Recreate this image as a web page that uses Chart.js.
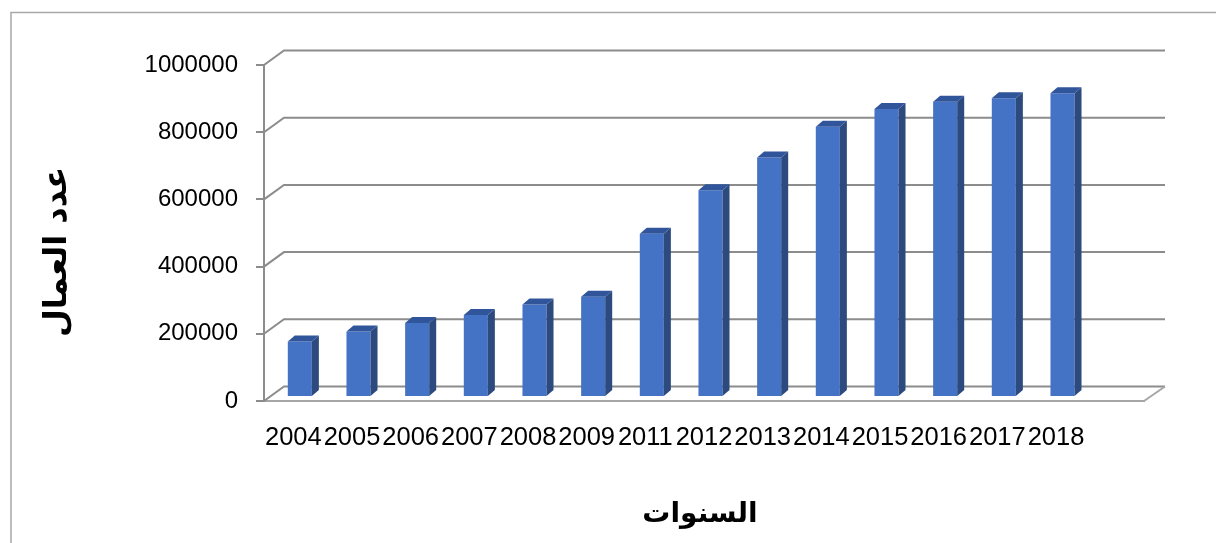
<!DOCTYPE html>
<html>
<head>
<meta charset="utf-8">
<script src="https://cdn.jsdelivr.net/npm/chart.js@4.4.1/dist/chart.umd.min.js"></script>
<style>
  html, body { margin: 0; padding: 0; background: #fff; }
  canvas { display: block; }
</style>
</head>
<body>
<canvas id="workersChart" width="1216" height="543"></canvas>
<script>
// data (last slot is empty in the original)
const years = ['2004', '2005', '2006', '2007', '2008', '2009', '2011', '2012', '2013', '2014', '2015', '2016', '2017', '2018', ''];
const workers = [165000, 195000, 220000, 244000, 275000, 298000, 486000, 615000, 713000, 804000, 857000, 879000, 889000, 904000, null];
const yTicks = [0, 200000, 400000, 600000, 800000, 1000000];

const yTitle = 'عدد العمال';
const xTitle = 'السنوات';

const GRID = '#8c8c8c';
const FLOOR = '#a6a6a6';
const WALL_DX = 20, WALL_DY = -14.5;   // back wall offset
const BAR_DX = 6.5, BAR_DY = -4;       // bars sit a bit inside the floor
const DEPTH_X = 7, DEPTH_Y = -6;       // bar depth

// frame, back wall and 3d faces of the bars
const pseudo3d = {
    id: 'pseudo3d',
    beforeDraw(chart) {
        const ctx = chart.ctx;
        ctx.save();
        ctx.fillStyle = '#fff';
        ctx.fillRect(0, 0, chart.width, chart.height);
        ctx.strokeStyle = '#a8a8a8';
        ctx.lineWidth = 1.5;
        ctx.beginPath();
        ctx.moveTo(11, chart.height);
        ctx.lineTo(11, 12.5);
        ctx.lineTo(chart.width, 12.5);
        ctx.stroke();
        ctx.restore();
    },
    beforeDatasetsDraw(chart) {
        const ctx = chart.ctx;
        const area = chart.chartArea;
        const y = chart.scales.y;
        ctx.save();
        ctx.strokeStyle = GRID;
        ctx.lineWidth = 2;
        yTicks.forEach(v => {
            const py = y.getPixelForValue(v);
            ctx.beginPath();
            ctx.moveTo(area.left, py);
            ctx.lineTo(area.left + WALL_DX, py + WALL_DY);
            ctx.lineTo(area.right + WALL_DX + 1, py + WALL_DY);
            ctx.stroke();
        });
        ctx.strokeStyle = FLOOR;
        ctx.beginPath();
        ctx.moveTo(area.right, area.bottom);
        ctx.lineTo(area.right + WALL_DX + 1, area.bottom + WALL_DY);
        ctx.stroke();
        ctx.restore();

        // shift the bars into the floor
        ctx.save();
        ctx.translate(BAR_DX, BAR_DY);
    },
    afterDatasetsDraw(chart) {
        const ctx = chart.ctx;
        const meta = chart.getDatasetMeta(0);
        meta.data.forEach((bar, i) => {
            if (workers[i] == null) return;
            const { x, y, base, width } = bar.getProps(['x', 'y', 'base', 'width'], true);
            const l = x - width / 2, r = x + width / 2;
            // side
            ctx.fillStyle = '#2c4a7e';
            ctx.beginPath();
            ctx.moveTo(r, y);
            ctx.lineTo(r + DEPTH_X, y + DEPTH_Y);
            ctx.lineTo(r + DEPTH_X, base + DEPTH_Y);
            ctx.lineTo(r, base);
            ctx.closePath();
            ctx.fill();
            // top
            ctx.fillStyle = '#30559a';
            ctx.beginPath();
            ctx.moveTo(l, y);
            ctx.lineTo(l + DEPTH_X, y + DEPTH_Y);
            ctx.lineTo(r + DEPTH_X, y + DEPTH_Y);
            ctx.lineTo(r, y);
            ctx.closePath();
            ctx.fill();
        });
        ctx.restore();
    },
    afterDraw(chart) {
        const ctx = chart.ctx;
        ctx.save();
        ctx.fillStyle = '#000';
        ctx.textAlign = 'center';
        ctx.textBaseline = 'middle';
        ctx.font = 'bold 28px "DejaVu Sans", sans-serif';
        ctx.fillText(xTitle, 700, 515);
        ctx.font = 'bold 32px "DejaVu Sans", sans-serif';
        ctx.translate(58, 252);
        ctx.rotate(-Math.PI / 2);
        ctx.fillText(yTitle, 0, 0);
        ctx.restore();
    }
};

new Chart(document.getElementById('workersChart'), {
    type: 'bar',
    data: {
        labels: years,
        datasets: [{
            label: yTitle,
            data: workers,
            backgroundColor: '#4472c4',
            borderWidth: 0,
            barPercentage: 0.41,
            categoryPercentage: 1
        }]
    },
    options: {
        responsive: false,
        animation: false,
        layout: { padding: { top: 65, right: 72, left: 0, bottom: 0 } },
        plugins: {
            legend: { display: false },
            tooltip: { enabled: false }
        },
        scales: {
            x: {
                grid: { display: false },
                border: { display: true, color: FLOOR, width: 2 },
                ticks: {
                    color: '#000',
                    font: { family: '"Liberation Sans", Arial, sans-serif', size: 25.5 },
                    maxRotation: 0,
                    autoSkip: false,
                    padding: 14
                },
                afterFit(scale) { scale.height = 142; }
            },
            y: {
                min: 0,
                max: 1000000,
                afterBuildTicks(scale) { scale.ticks = yTicks.map(v => ({ value: v })); },
                grid: { drawOnChartArea: false, drawTicks: true, tickLength: 8, color: GRID, lineWidth: 2 },
                border: { display: true, color: GRID, width: 2 },
                ticks: {
                    color: '#000',
                    font: { family: '"Liberation Sans", Arial, sans-serif', size: 24 },
                    padding: 18,
                    callback: v => String(v)
                },
                afterFit(scale) { scale.width = 264; }
            }
        }
    },
    plugins: [pseudo3d]
});
</script>
</body>
</html>
